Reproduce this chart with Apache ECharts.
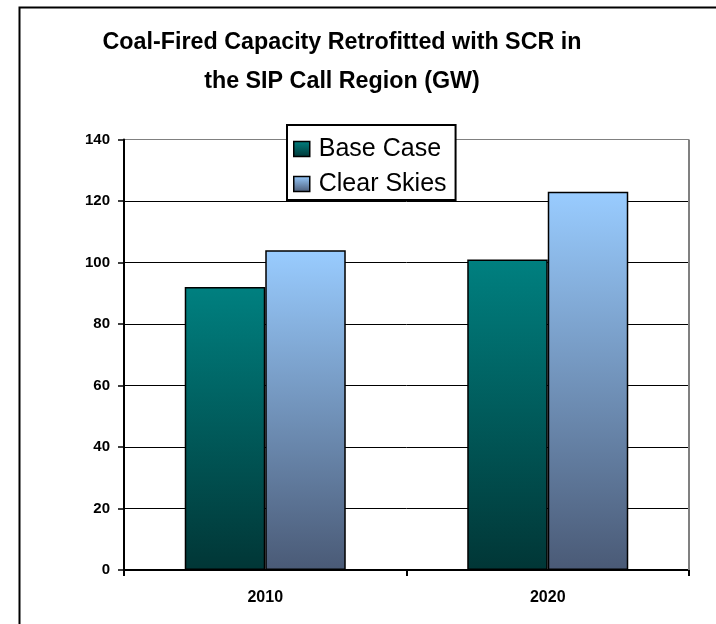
<!DOCTYPE html>
<html>
<head>
<meta charset="utf-8">
<script src="https://cdn.jsdelivr.net/npm/echarts@6/dist/echarts.min.js"></script>
<style>html,body{margin:0;padding:0;background:#fff;}#c{width:716px;height:624px;}</style>
</head>
<body>
<div id="c"></div>
<script>
var categories = ['2010', '2020'];
var baseCase = [92, 101];
var clearSkies = [104, 123];
var yTicks = [0, 20, 40, 60, 80, 100, 120, 140];
var seriesNames = ['Base Case', 'Clear Skies'];
var titleLines = ['Coal-Fired Capacity Retrofitted with SCR in', 'the SIP Call Region (GW)'];

var chart = echarts.init(document.getElementById('c'), null, {renderer: 'canvas'});

function grad(top, bottom) {
  return new echarts.graphic.LinearGradient(0, 0, 0, 1, [
    {offset: 0, color: top}, {offset: 1, color: bottom}
  ]);
}

var option = {
  backgroundColor: '#ffffff',
  animation: false,
  title: {
    text: titleLines.join('\n'),
    left: 342, top: 23, textAlign: 'center', padding: 0,
    textStyle: {fontFamily: 'Liberation Sans, Arial, sans-serif', fontWeight: 'bold', fontSize: 23.3, lineHeight: 39, color: '#000'}
  },
  legend: {
    orient: 'vertical',
    left: 287, top: 125,
    backgroundColor: '#fff',
    borderColor: '#000', borderWidth: 2, borderRadius: 0,
    padding: [10, 9, 2, 6],
    itemGap: 7,
    itemWidth: 16, itemHeight: 15,
    icon: 'rect',
    itemStyle: {borderColor: '#000', borderWidth: 1.5},
    textStyle: {fontFamily: 'Liberation Sans, Arial, sans-serif', fontSize: 25, color: '#000', lineHeight: 28, padding: [0, 0, 0, 4]},
    data: seriesNames,
    z: 10
  },
  grid: {left: 124, right: 27, top: 139.5, bottom: 54, containLabel: false, show: false},
  xAxis: {
    type: 'category', data: categories,
    axisLine: {lineStyle: {color: '#000', width: 2}},
    axisTick: {show: true, length: 6, inside: false, lineStyle: {color: '#000', width: 2}},
    axisLabel: {fontFamily: 'Liberation Sans, Arial, sans-serif', fontWeight: 'bold', fontSize: 16, color: '#000', margin: 20},
    splitLine: {show: false}
  },
  yAxis: [{
    type: 'value', min: 0, max: 140, interval: 20,
    axisLine: {show: true, lineStyle: {color: '#000', width: 2}},
    axisTick: {show: true, length: 6, lineStyle: {color: '#000', width: 1.5}},
    axisLabel: {fontFamily: 'Liberation Sans, Arial, sans-serif', fontWeight: 'bold', fontSize: 15, color: '#000', margin: 14,
      formatter: function (v) { return yTicks.indexOf(v) >= 0 ? String(v) : ''; }},
    splitLine: {show: true, lineStyle: {color: ['#000', '#000', '#000', '#000', '#000', '#000', '#000', '#808080'], width: 1}}
  }],
  series: [
    {
      name: seriesNames[0], type: 'bar', data: baseCase,
      barGap: '0%', barCategoryGap: '43%',
      itemStyle: {color: grad('#008080', '#013636'), borderColor: '#000', borderWidth: 1.5}
    },
    {
      name: seriesNames[1], type: 'bar', data: clearSkies,
      barGap: '0%', barCategoryGap: '43%',
      itemStyle: {color: grad('#99CCFF', '#4A5A76'), borderColor: '#000', borderWidth: 1.5}
    }
  ],
  graphic: [
    {type: 'rect', left: 17, top: 5, shape: {width: 760, height: 680}, style: {fill: 'none', stroke: '#000', lineWidth: 2}, silent: true, z: 0},
    {type: 'line', shape: {x1: 689, y1: 139.5, x2: 689, y2: 570}, style: {stroke: '#808080', lineWidth: 2}, silent: true, z: 1}
  ]
};
chart.setOption(option);
</script>
</body>
</html>
